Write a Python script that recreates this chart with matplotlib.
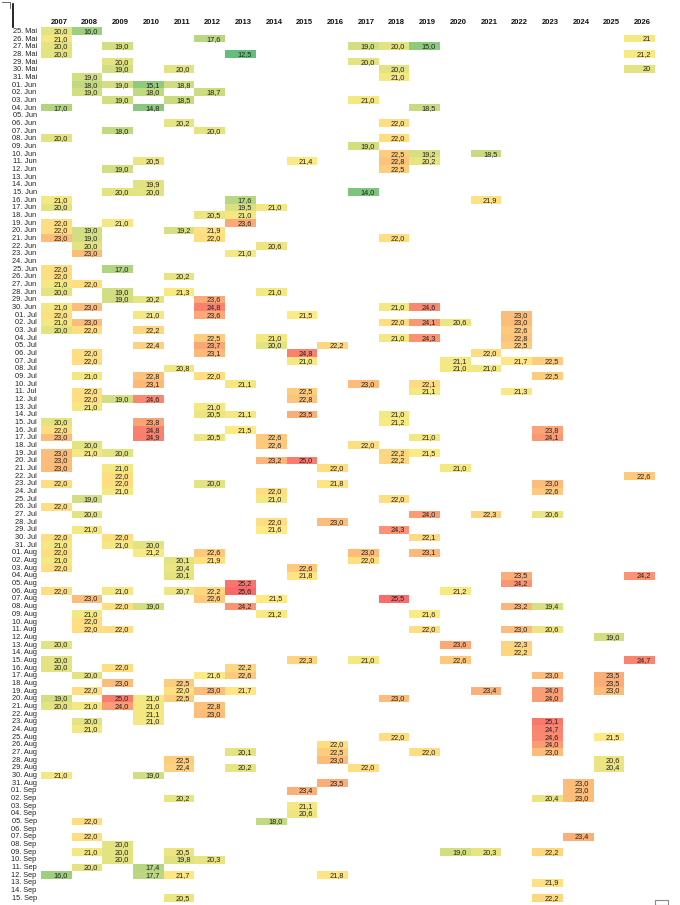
import numpy as np
import matplotlib
matplotlib.use("Agg")
import matplotlib.pyplot as plt
from matplotlib.colors import LinearSegmentedColormap, TwoSlopeNorm

plt.rcParams['font.family'] = ['Liberation Sans', 'DejaVu Sans']

# Zeilen: 25. Mai bis 15. Sep
months = [("Mai", 25, 31), ("Jun", 1, 30), ("Jul", 1, 31), ("Aug", 1, 31), ("Sep", 1, 15)]
row_labels = ["%02d. %s" % (d, m) for m, a, b in months for d in range(a, b + 1)]

years = list(range(2007, 2027))

v2007 = {"25. Mai": 20.0, "26. Mai": 21.0, "27. Mai": 20.0, "28. Mai": 20.0, "04. Jun": 17.0,
         "08. Jun": 20.0, "16. Jun": 21.0, "17. Jun": 20.0, "19. Jun": 22.0, "20. Jun": 22.0,
         "21. Jun": 23.0, "25. Jun": 22.0, "26. Jun": 22.0, "27. Jun": 21.0, "28. Jun": 20.0,
         "30. Jun": 21.0, "01. Jul": 22.0, "02. Jul": 21.0, "03. Jul": 20.0, "15. Jul": 20.0,
         "16. Jul": 22.0, "17. Jul": 23.0, "19. Jul": 23.0, "20. Jul": 23.0, "21. Jul": 23.0,
         "23. Jul": 22.0, "26. Jul": 22.0, "30. Jul": 22.0, "31. Jul": 21.0, "01. Aug": 22.0,
         "02. Aug": 21.0, "03. Aug": 22.0, "06. Aug": 22.0, "13. Aug": 20.0, "15. Aug": 20.0,
         "16. Aug": 20.0, "20. Aug": 19.0, "21. Aug": 20.0, "30. Aug": 21.0, "12. Sep": 16.0}
v2008 = {"25. Mai": 16.0, "31. Mai": 19.0, "01. Jun": 18.0, "02. Jun": 19.0, "20. Jun": 19.0,
         "21. Jun": 19.0, "22. Jun": 20.0, "23. Jun": 23.0, "27. Jun": 22.0, "30. Jun": 23.0,
         "02. Jul": 23.0, "03. Jul": 22.0, "06. Jul": 22.0, "07. Jul": 22.0, "09. Jul": 21.0,
         "11. Jul": 22.0, "12. Jul": 22.0, "13. Jul": 21.0, "18. Jul": 20.0, "19. Jul": 21.0,
         "25. Jul": 19.0, "27. Jul": 20.0, "29. Jul": 21.0, "07. Aug": 23.0, "09. Aug": 21.0,
         "10. Aug": 22.0, "11. Aug": 22.0, "17. Aug": 20.0, "19. Aug": 22.0, "21. Aug": 21.0,
         "23. Aug": 20.0, "24. Aug": 21.0, "05. Sep": 22.0, "07. Sep": 22.0, "09. Sep": 21.0,
         "11. Sep": 20.0}
v2009 = {"27. Mai": 19.0, "29. Mai": 20.0, "30. Mai": 19.0, "01. Jun": 19.0, "03. Jun": 19.0,
         "07. Jun": 18.0, "12. Jun": 19.0, "15. Jun": 20.0, "19. Jun": 21.0, "25. Jun": 17.0,
         "28. Jun": 19.0, "29. Jun": 19.0, "12. Jul": 19.0, "19. Jul": 20.0, "21. Jul": 21.0,
         "22. Jul": 22.0, "23. Jul": 22.0, "24. Jul": 21.0, "30. Jul": 22.0, "31. Jul": 21.0,
         "06. Aug": 21.0, "08. Aug": 22.0, "11. Aug": 22.0, "16. Aug": 22.0, "18. Aug": 23.0,
         "20. Aug": 25.0, "21. Aug": 24.0, "08. Sep": 20.0, "09. Sep": 20.0, "10. Sep": 20.0}
v2010 = {"01. Jun": 15.1, "02. Jun": 18.0, "04. Jun": 14.8, "11. Jun": 20.5, "14. Jun": 19.9,
         "15. Jun": 20.0, "29. Jun": 20.2, "01. Jul": 21.0, "03. Jul": 22.2, "05. Jul": 22.4,
         "09. Jul": 22.8, "10. Jul": 23.1, "12. Jul": 24.6, "15. Jul": 23.8, "16. Jul": 24.8,
         "17. Jul": 24.9, "31. Jul": 20.0, "01. Aug": 21.2, "08. Aug": 19.0, "20. Aug": 21.0,
         "21. Aug": 21.0, "22. Aug": 21.1, "23. Aug": 21.0, "30. Aug": 19.0, "11. Sep": 17.4,
         "12. Sep": 17.7}
v2011 = {"30. Mai": 20.0, "01. Jun": 18.8, "03. Jun": 18.5, "06. Jun": 20.2, "20. Jun": 19.2,
         "26. Jun": 20.2, "28. Jun": 21.3, "08. Jul": 20.8, "02. Aug": 20.1, "03. Aug": 20.4,
         "04. Aug": 20.1, "06. Aug": 20.7, "18. Aug": 22.5, "19. Aug": 22.0, "20. Aug": 22.5,
         "28. Aug": 22.5, "29. Aug": 22.4, "02. Sep": 20.2, "09. Sep": 20.5, "10. Sep": 19.8,
         "12. Sep": 21.7, "15. Sep": 20.5}
v2012 = {"26. Mai": 17.6, "02. Jun": 18.7, "07. Jun": 20.0, "18. Jun": 20.5, "20. Jun": 21.9,
         "21. Jun": 22.0, "29. Jun": 23.6, "30. Jun": 24.8, "01. Jul": 23.6, "04. Jul": 22.5,
         "05. Jul": 23.7, "06. Jul": 23.1, "09. Jul": 22.0, "13. Jul": 21.0, "14. Jul": 20.5,
         "17. Jul": 20.5, "23. Jul": 20.0, "01. Aug": 22.6, "02. Aug": 21.9, "06. Aug": 22.2,
         "07. Aug": 22.6, "17. Aug": 21.6, "19. Aug": 23.0, "21. Aug": 22.8, "22. Aug": 23.0,
         "10. Sep": 20.3}
v2013 = {"28. Mai": 12.5, "16. Jun": 17.6, "17. Jun": 19.5, "18. Jun": 21.0, "19. Jun": 23.6,
         "23. Jun": 21.0, "10. Jul": 21.1, "14. Jul": 21.1, "16. Jul": 21.5, "05. Aug": 25.2,
         "06. Aug": 25.6, "08. Aug": 24.2, "16. Aug": 22.2, "17. Aug": 22.6, "19. Aug": 21.7,
         "27. Aug": 20.1, "29. Aug": 20.2}
v2014 = {"17. Jun": 21.0, "22. Jun": 20.6, "28. Jun": 21.0, "04. Jul": 21.0, "05. Jul": 20.0,
         "17. Jul": 22.6, "18. Jul": 22.6, "20. Jul": 23.2, "24. Jul": 22.0, "25. Jul": 21.0,
         "28. Jul": 22.0, "29. Jul": 21.6, "07. Aug": 21.5, "09. Aug": 21.2, "05. Sep": 18.0}
v2015 = {"11. Jun": 21.4, "01. Jul": 21.5, "06. Jul": 24.8, "07. Jul": 21.0, "11. Jul": 22.5,
         "12. Jul": 22.8, "14. Jul": 23.5, "20. Jul": 25.0, "03. Aug": 22.6, "04. Aug": 21.8,
         "15. Aug": 22.3, "01. Sep": 23.4, "03. Sep": 21.1, "04. Sep": 20.6}
v2016 = {"05. Jul": 22.2, "21. Jul": 22.0, "23. Jul": 21.8, "28. Jul": 23.0, "26. Aug": 22.0,
         "27. Aug": 22.5, "28. Aug": 23.0, "31. Aug": 23.5, "12. Sep": 21.8}
v2017 = {"27. Mai": 19.0, "29. Mai": 20.0, "03. Jun": 21.0, "09. Jun": 19.0, "15. Jun": 14.0,
         "10. Jul": 23.0, "18. Jul": 22.0, "01. Aug": 23.0, "02. Aug": 22.0, "15. Aug": 21.0,
         "29. Aug": 22.0}
v2018 = {"27. Mai": 20.0, "30. Mai": 20.0, "31. Mai": 21.0, "06. Jun": 22.0, "08. Jun": 22.0,
         "10. Jun": 22.5, "11. Jun": 22.8, "12. Jun": 22.5, "21. Jun": 22.0, "30. Jun": 21.0,
         "02. Jul": 22.0, "04. Jul": 21.0, "14. Jul": 21.0, "15. Jul": 21.2, "19. Jul": 22.2,
         "20. Jul": 22.2, "25. Jul": 22.0, "29. Jul": 24.3, "07. Aug": 25.5, "20. Aug": 23.0,
         "25. Aug": 22.0}
v2019 = {"27. Mai": 15.0, "04. Jun": 18.5, "10. Jun": 19.2, "11. Jun": 20.2, "30. Jun": 24.6,
         "02. Jul": 24.1, "04. Jul": 24.3, "10. Jul": 22.1, "11. Jul": 21.1, "17. Jul": 21.0,
         "19. Jul": 21.5, "27. Jul": 24.0, "30. Jul": 22.1, "01. Aug": 23.1, "09. Aug": 21.6,
         "11. Aug": 22.0, "27. Aug": 22.0}
v2020 = {"02. Jul": 20.6, "07. Jul": 21.1, "08. Jul": 21.0, "21. Jul": 21.0, "06. Aug": 21.2,
         "13. Aug": 23.6, "15. Aug": 22.6, "09. Sep": 19.0}
v2021 = {"10. Jun": 18.5, "16. Jun": 21.9, "06. Jul": 22.0, "08. Jul": 21.0, "27. Jul": 22.3,
         "19. Aug": 23.4, "09. Sep": 20.3}
v2022 = {"01. Jul": 23.0, "02. Jul": 23.0, "03. Jul": 22.6, "04. Jul": 22.8, "05. Jul": 22.5,
         "07. Jul": 21.7, "11. Jul": 21.3, "04. Aug": 23.5, "05. Aug": 24.2, "08. Aug": 23.2,
         "11. Aug": 23.0, "13. Aug": 22.3, "14. Aug": 22.2}
v2023 = {"07. Jul": 22.5, "09. Jul": 22.5, "16. Jul": 23.8, "17. Jul": 24.1, "23. Jul": 23.0,
         "24. Jul": 22.6, "27. Jul": 20.6, "08. Aug": 19.4, "11. Aug": 20.6, "17. Aug": 23.0,
         "19. Aug": 24.0, "20. Aug": 24.0, "23. Aug": 25.1, "24. Aug": 24.7, "25. Aug": 24.6,
         "26. Aug": 24.0, "27. Aug": 23.0, "02. Sep": 20.4, "09. Sep": 22.2, "13. Sep": 21.9,
         "15. Sep": 22.2}
v2024 = {"31. Aug": 23.0, "01. Sep": 23.0, "02. Sep": 23.0, "07. Sep": 23.4}
v2025 = {"12. Aug": 19.0, "17. Aug": 23.5, "18. Aug": 23.5, "19. Aug": 23.0, "25. Aug": 21.5,
         "28. Aug": 20.6, "29. Aug": 20.4}
v2026 = {"26. Mai": 21, "28. Mai": 21.2, "30. Mai": 20, "22. Jul": 22.6, "04. Aug": 24.2,
         "15. Aug": 24.7}

columns = [v2007, v2008, v2009, v2010, v2011, v2012, v2013, v2014, v2015, v2016,
           v2017, v2018, v2019, v2020, v2021, v2022, v2023, v2024, v2025, v2026]

grid = np.full((len(row_labels), len(years)), np.nan)
for j, col in enumerate(columns):
    for lab, val in col.items():
        grid[row_labels.index(lab), j] = val


def fmt(v, general=False):
    if general and float(v).is_integer():
        return str(int(v))
    return ("%.1f" % v).replace(".", ",")


# Excel-Farbskala gruen - gelb - rot
cmap = LinearSegmentedColormap.from_list("ampel", ["#63BE7B", "#FFEB84", "#F8696B"])
cmap.set_bad((1, 1, 1, 0))
norm = TwoSlopeNorm(vmin=np.nanmin(grid), vcenter=np.nanpercentile(grid, 50),
                    vmax=np.nanmax(grid))

W, H = 680, 905
fig = plt.figure(figsize=(W / 100, H / 100), dpi=100)
row_h = 7.67
top_px, left_px, col_w = 27.2, 41.0, 30.7
ax = fig.add_axes([left_px / W, 1 - (top_px + row_h * len(row_labels)) / H,
                   col_w * len(years) / W, row_h * len(row_labels) / H])
ax.imshow(np.ma.masked_invalid(grid), cmap=cmap, norm=norm, aspect="auto",
          interpolation="nearest")
ax.set_xlim(-0.5, len(years) - 0.5)
ax.set_ylim(len(row_labels) - 0.5, -0.5)
ax.axis("off")

pad = 4.2 / col_w
for i in range(len(row_labels)):
    for j in range(len(years)):
        v = grid[i, j]
        if not np.isnan(v):
            ax.text(j + 0.5 - pad, i + 0.05, fmt(v, years[j] == 2026), ha="right", va="center",
                    fontsize=5.3, color="#222222")
    ax.text(-0.5 - 4.3 / col_w, i + 0.05, row_labels[i], ha="right", va="center",
            fontsize=5.3, color="#222222", clip_on=False)

for j, yr in enumerate(years):
    ax.text(j + 0.5 - pad, -0.5 - 5.2 / row_h, str(yr), ha="right", va="center",
            fontsize=5.5, fontweight="bold", color="#111111", clip_on=False)

# kleine Bildschirmreste oben links / unten rechts
fig.add_artist(plt.Line2D([13 / W, 13 / W], [1 - 4 / H, 1 - 27 / H], color="black", lw=1.2))
fig.add_artist(plt.Line2D([2 / W, 10 / W, 10 / W], [1 - 2 / H, 1 - 2 / H, 1 - 8 / H],
                          color="#555555", lw=0.6))
fig.add_artist(plt.Rectangle((655 / W, 0), 13 / W, 5 / H, fill=False, ec="#888888", lw=0.8))

fig.savefig("out.png", dpi=100, facecolor="white")
